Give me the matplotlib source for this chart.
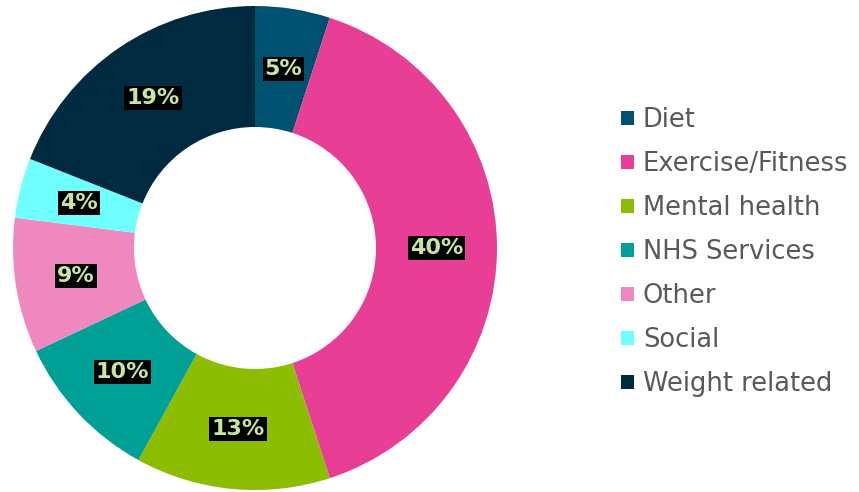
"""Donut chart of topic shares with legend on the right."""

import matplotlib

matplotlib.use("Agg")
import matplotlib.pyplot as plt

categories = ["Diet", "Exercise/Fitness", "Mental health", "NHS Services",
              "Other", "Social", "Weight related"]
shares = [5, 40, 13, 10, 9, 4, 19]
colors = ["#005070", "#e83e96", "#8cbd00", "#00a097",
          "#f088c0", "#70ffff", "#002a40"]

fig = plt.figure(figsize=(8.59, 4.92), dpi=100)
ax = fig.add_axes([13 / 859, 2 / 492, 484 / 859, 484 / 492])

wedges, texts, autotexts = ax.pie(
    shares, colors=colors, startangle=90, counterclock=False,
    radius=1.0, pctdistance=0.75, autopct="%1.0f%%",
    wedgeprops=dict(width=0.5, edgecolor="none"),
)
for t in autotexts:
    t.set_color("#c8e6a0")
    t.set_fontsize(16)
    t.set_fontweight("bold")
    t.set_bbox(dict(facecolor="black", edgecolor="none", pad=1.5))

ax.set_xlim(-1, 1)
ax.set_ylim(-1, 1)
ax.set_aspect("equal")

leg = fig.legend(wedges, categories, loc="center left",
                 bbox_to_anchor=(598 / 859, 1 - 252 / 492),
                 frameon=False, fontsize=18.5, handlelength=0.5,
                 handleheight=0.5, handletextpad=0.35, labelspacing=0.7)
for t in leg.get_texts():
    t.set_color("#595959")

fig.savefig("out.png", dpi=100)
